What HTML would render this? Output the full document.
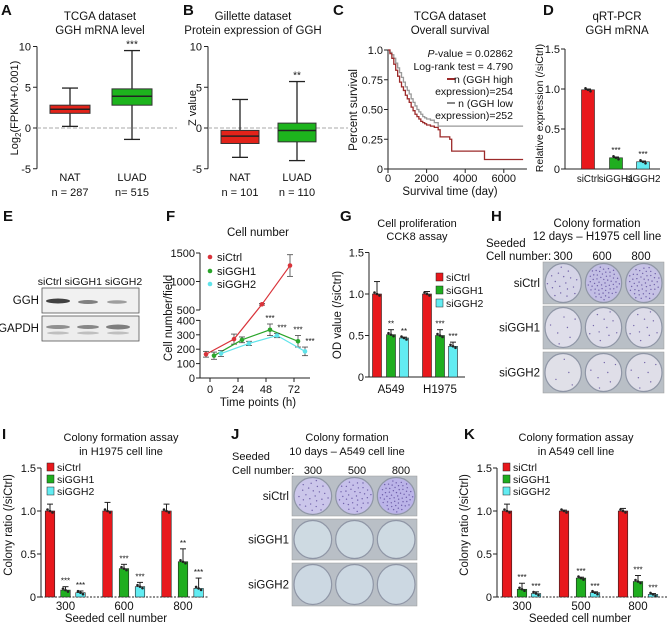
<!DOCTYPE html>
<html><head><meta charset="utf-8"><style>
html,body{margin:0;padding:0;background:#fff;}
svg{display:block;font-family:"Liberation Sans",Arial,sans-serif;}
</style></head><body>
<svg id="fig" width="669" height="626" viewBox="0 0 669 626" xmlns="http://www.w3.org/2000/svg"></svg>
<script>
// ---------- DATA ----------
const aGroups = ["NAT","LUAD"];
const aNs = ["n = 287","n= 515"];
const aLow = [0.2,-1.4], aQ1=[1.8,2.8], aMed=[2.3,3.9], aQ3=[2.8,4.8], aHigh=[4.9,9.5];
const bGroups = ["NAT","LUAD"];
const bNs = ["n = 101","n = 110"];
const bLow = [-3.6,-4.0], bQ1=[-1.9,-1.7], bMed=[-1.0,-0.3], bQ3=[-0.3,0.6], bHigh=[3.5,5.7];
const boxTicks = [10,5,0,-5];
const cTimes = [0,100,200,300,400,500,600,700,800,900,1000,1100,1200,1300,1400,1500,1600,1700,1800,1900,2000,2200,2400,2600,2700,3000,3200,3300,4900,5000,7000];
const cHigh = [1,0.97,0.93,0.88,0.83,0.78,0.73,0.69,0.66,0.62,0.59,0.56,0.52,0.49,0.46,0.44,0.42,0.40,0.39,0.38,0.37,0.36,0.35,0.33,0.27,0.27,0.25,0.15,0.15,0.08,0.08];
const cLow = [1,0.98,0.96,0.93,0.89,0.85,0.81,0.77,0.73,0.69,0.66,0.63,0.59,0.56,0.53,0.50,0.48,0.46,0.44,0.43,0.42,0.41,0.39,0.36,0.36,0.36,0.36,0.36,0.36,0.36,0.36];
const cXTicks = [0,2000,4000,6000];
const cYTicks = [0,0.25,0.5,0.75,1.0];
const dCats = ["siCtrl","siGGH1","siGGH2"];
const dVals = [0.99,0.14,0.09];
const dErr = [0.01,0.01,0.01];
const dStars = ["","***","***"];
const fTimes = [0,24,48,72];
const fCtrl = [165,270,600,1280];
const fG1 = [155,265,335,255];
const fG2 = [170,240,295,185];
const fErrCtrl=[20,35,15,190], fErrG1=[25,20,40,40], fErrG2=[20,15,15,30];
const fStarsG1=["","","***","***"], fStarsG2=["","","***","***"];
const gCats = ["A549","H1975"];
const gCtrl=[1.0,1.0], gG1=[0.51,0.50], gG2=[0.47,0.37];
const gErrCtrl=[0.15,0.03], gErrG1=[0.06,0.07], gErrG2=[0.01,0.05];
const gStarsG1=["**","***"], gStarsG2=["**","***"];
const iCats=["300","600","800"];
const iCtrl=[1,1,1], iG1=[0.08,0.33,0.41], iG2=[0.05,0.12,0.10];
const iErrCtrl=[0.08,0.1,0.08], iErrG1=[0.04,0.05,0.15], iErrG2=[0.02,0.05,0.12];
const iStarsG1=["***","***","**"], iStarsG2=["***","***","***"];
const kCats=["300","500","800"];
const kCtrl=[1,1,1], kG1=[0.09,0.22,0.18], kG2=[0.04,0.05,0.03];
const kErrCtrl=[0.08,0.01,0.03], kErrG1=[0.07,0.01,0.07], kErrG2=[0.02,0.01,0.01];
const kStarsG1=["***","***","***"], kStarsG2=["***","***","***"];
const barTicks=[0,0.5,1.0,1.5];
const barTickLabels=["0","0.5","1.0","1.5"];

// ---------- HELPERS ----------
const NS="http://www.w3.org/2000/svg";
const svg=document.getElementById('fig');
const RED="#e8181c", GREEN="#1fae1f", CYAN="#62ecf2", DRED="#9c2a2a";
function mk(tag,a,parent){const e=document.createElementNS(NS,tag);for(const k in a)e.setAttribute(k,a[k]);(parent||svg).appendChild(e);return e;}
function txt(x,y,s,size,anchor,extra){const e=mk('text',Object.assign({x:x,y:y,'font-size':size||11,'text-anchor':anchor||'middle',fill:'#111'},extra||{}));e.textContent=s;return e;}
function line(x1,y1,x2,y2,st,w,extra){return mk('line',Object.assign({x1:x1,y1:y1,x2:x2,y2:y2,stroke:st||'#222','stroke-width':w||1},extra||{}));}
function letter(x,y,s){const e=txt(x,y,s,15,'start',{'font-weight':'bold'});}
function vtitle(x,y,s,size){return txt(x,y,s,size||11,'middle',{transform:'rotate(-90 '+x+' '+y+')'});}

// ---------- PANEL A & B ----------
function boxPanel(id,ax,y0,scale,xs,w,low,q1,med,q3,high,groups,ns,colors,stars,starIdx){
  const Y=v=>y0-v*scale;
  let l=line(ax,Y(10),ax,Y(-5),'#222',1);
  boxTicks.forEach(t=>{line(ax-4,Y(t),ax,Y(t));const e=txt(ax-6,Y(t)+4,String(t),11,'end');});
  let d=line(ax,Y(0),ax+140,Y(0),'#aaa',1,{'stroke-dasharray':'4,2'});
  xs.forEach((x,i)=>{
    line(x,Y(low[i]),x,Y(high[i]),'#222',1.3);
    line(x-8,Y(low[i]),x+8,Y(low[i]),'#222',1.3);line(x-8,Y(high[i]),x+8,Y(high[i]),'#222',1.3);
    const r=mk('rect',{x:x-w/2,y:Y(q3[i]),width:w,height:Y(q1[i])-Y(q3[i]),fill:colors[i],stroke:'#333','stroke-width':1});
    
    line(x-w/2,Y(med[i]),x+w/2,Y(med[i]),'#222',1.5);
    const c=txt(x,181,groups[i],11);
    const n=txt(x,196,ns[i],11);
  });
  const s=txt(xs[starIdx],Y(high[starIdx])-3,stars,10);
}
letter(1,15,"A");
let t=txt(100,20,"TCGA dataset",11.5);
t=txt(100,34,"GGH mRNA level",11.5);
boxPanel('a',37,128,8.15,[70,132],40,aLow,aQ1,aMed,aQ3,aHigh,aGroups,aNs,["#e2231a","#1db41d"],"***",1);
t=mk('text',{x:0,y:0,'font-size':11,'text-anchor':'middle',fill:'#111',transform:'translate(18 108) rotate(-90)'});
t.innerHTML='Log<tspan font-size="8" dy="3">2</tspan><tspan dy="-3">(FPKM+0.001)</tspan>';


letter(183,15,"B");
t=txt(253,20,"Gillette dataset",11.5);
t=txt(253,34,"Protein expression of GGH",11.5);
boxPanel('b',208,128,8.15,[240,297],38,bLow,bQ1,bMed,bQ3,bHigh,bGroups,bNs,["#e2231a","#1db41d"],"**",1);
t=vtitle(196,108,"Z value");

// ---------- PANEL C ----------
letter(333,15,"C");
t=txt(450,20,"TCGA dataset",11.5);
t=txt(450,34,"Overall survival",11.5);
{
  const X=v=>388+v*0.0193, Y=v=>169-v*119;
  let a=line(388,Y(1),388,Y(0));
  a=line(388,Y(0),X(7200),Y(0));
  cYTicks.forEach(v=>{line(384,Y(v),388,Y(v));const e=txt(383,Y(v)+4,v===0?"0":(v===1?"1.0":v.toFixed(2)),11,'end');});
  cXTicks.forEach(v=>{line(X(v),Y(0),X(v),Y(0)+4);const e=txt(X(v),182,String(v),11);});
  function step(vals,col,name){let d='M'+X(cTimes[0])+' '+Y(vals[0]);for(let i=1;i<cTimes.length;i++){d+=' H'+X(cTimes[i])+' V'+Y(vals[i]);}
    const p=mk('path',{d:d,fill:'none',stroke:col,'stroke-width':1.3});}
  step(cLow,'#999','survival-curve-low');
  step(cHigh,DRED,'survival-curve-high');
  t=vtitle(357,110,"Percent survival",11.5);
  t=txt(450,195,"Survival time (day)",11.5);
  t=mk('text',{x:513,y:57,'font-size':10.5,'text-anchor':'end',fill:'#111'});t.innerHTML='<tspan font-style="italic">P</tspan>-value = 0.02862';
  t=txt(513,70,"Log-rank test = 4.790",10.5,'end');
  let lg=line(447,79,455,79,DRED,2);
  t=txt(513,83,"n (GGH high",10.5,'end');
  t=txt(513,95,"expression)=254",10.5,'end');
  lg=line(447,103,455,103,'#888',2);
  t=txt(513,107,"n (GGH low",10.5,'end');
  t=txt(513,119,"expression)=252",10.5,'end');
}

// ---------- bar helpers ----------
function bar(x,w,y0,yv,col,name){const r=mk('rect',{x:x-w/2,y:yv,width:w,height:y0-yv,fill:col,stroke:'#222','stroke-width':0.6});return r;}
function err(x,ytop,ybase){line(x,ybase,x,ytop,'#222',1);line(x-3,ytop,x+3,ytop,'#222',1);}
function dots(x,y){[-2.5,0,2.5].forEach((o,i)=>mk('circle',{cx:x+o,cy:y+(i-1)*1.5,r:1.3,fill:'#222'}));}
function star(x,y,s){if(!s)return;const e=txt(x,y,s,8);}
function barAxis(ax,y0,scale,xEnd,dotted){
  const Y=v=>y0-v*scale;
  let a=line(ax,Y(1.5),ax,y0);
  a=line(ax,y0,xEnd,y0,'#222',1,dotted?{'stroke-dasharray':'2,1.5'}:{});
  barTicks.forEach((v,i)=>{line(ax-4,Y(v),ax,Y(v));const e=txt(ax-5,Y(v)+4,barTickLabels[i],11,'end');});
  return Y;
}
function legendSq(x,y,col,label){const r=mk('rect',{x:x,y:y-8,width:7,height:8,fill:col,stroke:'#222','stroke-width':0.5});
  const e=txt(x+10,y,label,10.5,'start');}

// ---------- PANEL D ----------
letter(543,15,"D");
t=txt(617,20,"qRT-PCR",11.5);
t=txt(617,34,"GGH mRNA",11.5);
{
  const Y=barAxis(565,169,80,660,false);
  const xs=[588,616,643], cols=[RED,GREEN,CYAN];
  dCats.forEach((c,i)=>{bar(xs[i],13,169,Y(dVals[i]),cols[i],'bar-'+c.toLowerCase());err(xs[i],Y(dVals[i]+dErr[i]),Y(dVals[i]));dots(xs[i],Y(dVals[i]));star(xs[i],Y(dVals[i]+dErr[i])-4,dStars[i]);
    const e=txt(xs[i],182,c,9.8);});
  t=vtitle(543,108,"Relative expression (/siCtrl)",10.5);
}

// ---------- PANEL E ----------
letter(3,221,"E");
{
  const g=mk('g',{});
  t=txt(90,285,"siCtrl siGGH1 siGGH2",10.5);
  const b1=mk('rect',{x:42,y:288,width:97,height:25,fill:'#f1f1f1',stroke:'#555','stroke-width':0.8},g);
  const b2=mk('rect',{x:42,y:316,width:97,height:25,fill:'#ededed',stroke:'#555','stroke-width':0.8},g);
  [[58,301,24,5,0.85],[88,302,20,4,0.55],[117,302,20,3.5,0.4]].forEach(b=>mk('ellipse',{cx:b[0],cy:b[1],rx:b[2]/2,ry:b[3]/2,fill:'#222','fill-opacity':b[4]},g));
  [[58,327,24,4,0.5],[88,327,22,4,0.55],[118,327,24,5,0.6]].forEach(b=>mk('ellipse',{cx:b[0],cy:b[1],rx:b[2]/2,ry:b[3]/2,fill:'#333','fill-opacity':b[4]},g));
  [[58,333],[88,333],[118,333]].forEach(b=>mk('ellipse',{cx:b[0],cy:b[1],rx:11,ry:1.5,fill:'#555','fill-opacity':0.3},g));
  t=txt(39,304,"GGH",11.5,'end');
  t=txt(39,332,"GAPDH",11.5,'end');
}

// ---------- PANEL F ----------
letter(166,221,"F");
t=txt(258,236,"Cell number",11.5);
{
  const Y=v=> v<=400 ? 378-v*0.144 : 310-(v-500)*0.057;
  const X=(tt,off)=>206+tt*(84/72)+off;
  let a=line(200,253,200,310);
  a=line(200,320,200,378);
  a=line(200,378,310,378);
  [0,100,200,300,400,500,1000,1500].forEach(v=>{line(196,Y(v),200,Y(v));const e=txt(195,Y(v)+4,String(v),11,'end');});
  fTimes.forEach(tt=>{line(X(tt,4),378,X(tt,4),382);const e=txt(X(tt,4),393,String(tt),11);});
  function series(vals,errs,col,off,name,stars){
    const pts=vals.map((v,i)=>X(fTimes[i],off)+','+Y(v)).join(' ');
    const p=mk('polyline',{points:pts,fill:'none',stroke:col,'stroke-width':1.2});
    vals.forEach((v,i)=>{const x=X(fTimes[i],off);line(x,Y(v-errs[i]),x,Y(v+errs[i]),'#444',0.8);line(x-3,Y(v-errs[i]),x+3,Y(v-errs[i]),'#444',0.8);line(x-3,Y(v+errs[i]),x+3,Y(v+errs[i]),'#444',0.8);
      const c=mk('circle',{cx:x,cy:Y(v),r:2.3,fill:col});
      if(stars&&stars[i])star(x+(off>10?5:0),Y(v+errs[i])-3,stars[i]);});
  }
  series(fCtrl,fErrCtrl,'#d9333a',0,'sictrl',null);
  series(fG1,fErrG1,'#2aa52a',8,'siggh1',fStarsG1);
  series(fG2,fErrG2,'#5fe3ea',15,'siggh2',fStarsG2);
  [['siCtrl','#d9333a',261],['siGGH1','#2aa52a',275],['siGGH2','#5fe3ea',288]].forEach(l=>{const c=mk('circle',{cx:210,cy:l[2]-4,r:2.3,fill:l[1]});
    const e=txt(217,l[2],l[0],11,'start');});
  t=vtitle(172,318,"Cell number/field",11.5);
  t=txt(258,406,"Time points (h)",11.5);
}

// ---------- PANEL G ----------
letter(340,221,"G");
t=txt(417,227,"Cell proliferation",11);
t=txt(417,240,"CCK8 assay",11);
{
  const Y=barAxis(369,377,83,465,false);
  const gx=[[377,391,404],[427,440,453]];
  gCats.forEach((c,i)=>{
    [[gCtrl,gErrCtrl,RED,'sictrl',null],[gG1,gErrG1,GREEN,'siggh1',gStarsG1],[gG2,gErrG2,CYAN,'siggh2',gStarsG2]].forEach((s,j)=>{
      const x=gx[i][j],v=s[0][i];bar(x,9,377,Y(v),s[2],'bar-'+c.toLowerCase()+'-'+s[3]);err(x,Y(v+s[1][i]),Y(v));dots(x,Y(v));if(s[4])star(x,Y(v+s[1][i])-3,s[4][i]);});
    const e=txt(gx[i][1],393,c,11.5);});
  legendSq(436,281,RED,'siCtrl');legendSq(436,294,GREEN,'siGGH1');legendSq(436,307,CYAN,'siGGH2');
  t=vtitle(341,315,"OD value (/siCtrl)",11.5);
}

// ---------- Plates ----------
function plates(x0,x1,rows,labels,purple,base,name){
  const w=x1-x0;
  rows.forEach((r,ri)=>{
    const g=mk('g',{});
    mk('rect',{x:x0,y:r[0],width:w,height:r[1]-r[0],fill:'#b9bfc6',stroke:'#999','stroke-width':0.5},g);
    for(let k=0;k<3;k++){
      const cx=x0+w*(k+0.5)/3, cy=(r[0]+r[1])/2, rx=w/6-2, ry=(r[1]-r[0])/2-1.5;
      const tint=purple[ri][k];
      const b=base[ri];
      const col='rgb('+Math.round(b[0]-tint*35)+','+Math.round(b[1]-tint*40)+','+Math.round(b[2]-tint*5)+')';
      mk('ellipse',{cx:cx,cy:cy,rx:rx,ry:ry,fill:col,stroke:'#8f96a6','stroke-width':1.2},g);
      const nd=Math.round(tint*70);
      for(let d=0;d<nd;d++){const ang=d*2.39996, rad=Math.sqrt((d+0.5)/nd)*0.88;
        mk('circle',{cx:cx+Math.cos(ang)*rad*rx,cy:cy+Math.sin(ang)*rad*ry,r:0.7,fill:'#5b4a9a','fill-opacity':0.8},g);}
    }
    const e=txt(x0-3,(r[0]+r[1])/2+4,labels[ri],11.5,'end');
  });
}
letter(491,221,"H");
t=txt(597,227,"Colony formation",11.5);
t=txt(597,240,"12 days \u2013 H1975 cell line",11.5);
t=txt(486,247,"Seeded",11.5,'start');
t=txt(486,260,"Cell number:",11.5,'start');
["300","600","800"].forEach((s,i)=>{const e=txt(563+i*39,260,s,11.5);});
plates(543,664,[[262,304],[306,349],[352,393]],["siCtrl","siGGH1","siGGH2"],[[0.25,0.8,0.7],[0.1,0.15,0.15],[0.05,0.1,0.1]],[[222,222,232],[226,226,234],[226,226,232]],'h1975-plate');

letter(231,439,"J");
t=txt(347,441,"Colony formation",11);
t=txt(347,455,"10 days \u2013 A549 cell line",11);
t=txt(232,460,"Seeded",11,'start');
t=txt(232,474,"Cell number:",11,'start');
["300","500","800"].forEach((s,i)=>{const e=txt(313+i*44,474,s,11);});
plates(292,417,[[476,516],[519,560],[563,606]],["siCtrl","siGGH1","siGGH2"],[[0.35,0.5,0.8],[0,0,0],[0,0,0]],[[215,212,236],[206,218,226],[204,216,226]],'a549-plate');

// ---------- PANELS I and K ----------
function colonyPanel(ax,xs,cats,ctrl,g1,g2,eC,e1,e2,s1,s2,xEnd,id){
  const Y=barAxis(ax,597,86,xEnd,true);
  cats.forEach((c,i)=>{
    [[ctrl,eC,RED,'sictrl',null],[g1,e1,GREEN,'siggh1',s1],[g2,e2,CYAN,'siggh2',s2]].forEach((s,j)=>{
      const x=xs[i][j],v=s[0][i];bar(x,9.5,597,Y(v),s[2],'bar-'+id+'-'+c+'-'+s[3]);err(x,Y(v+s[1][i]),Y(v));dots(x,Y(v));if(s[4])star(x,Y(v+s[1][i])-3,s[4][i]);});
    const e=txt(xs[i][1],610,c,11.5);});
}
letter(2,439,"I");
t=txt(121,441,"Colony formation assay",11);
t=txt(121,455,"in H1975 cell line",11);
colonyPanel(41,[[50,65.5,80.5],[107.5,124,140],[166.5,183,198.6]],iCats,iCtrl,iG1,iG2,iErrCtrl,iErrG1,iErrG2,iStarsG1,iStarsG2,208,'i');
legendSq(47,471,RED,'siCtrl');legendSq(47,483,GREEN,'siGGH1');legendSq(47,495,CYAN,'siGGH2');
t=vtitle(12,525,"Colony ratio (/siCtrl)",11.5);
t=txt(116,622,"Seeded cell number",11.5);

letter(464,439,"K");
t=txt(576,441,"Colony formation assay",11);
t=txt(576,455,"in A549 cell line",11);
colonyPanel(497,[[507,522,536],[564,581,595],[623,638,653]],kCats,kCtrl,kG1,kG2,kErrCtrl,kErrG1,kErrG2,kStarsG1,kStarsG2,668,'k');
legendSq(503,471,RED,'siCtrl');legendSq(503,483,GREEN,'siGGH1');legendSq(503,495,CYAN,'siGGH2');
t=vtitle(468,525,"Colony ratio (/siCtrl)",11.5);
t=txt(580,622,"Seeded cell number",11.5);
</script>
</body></html>
